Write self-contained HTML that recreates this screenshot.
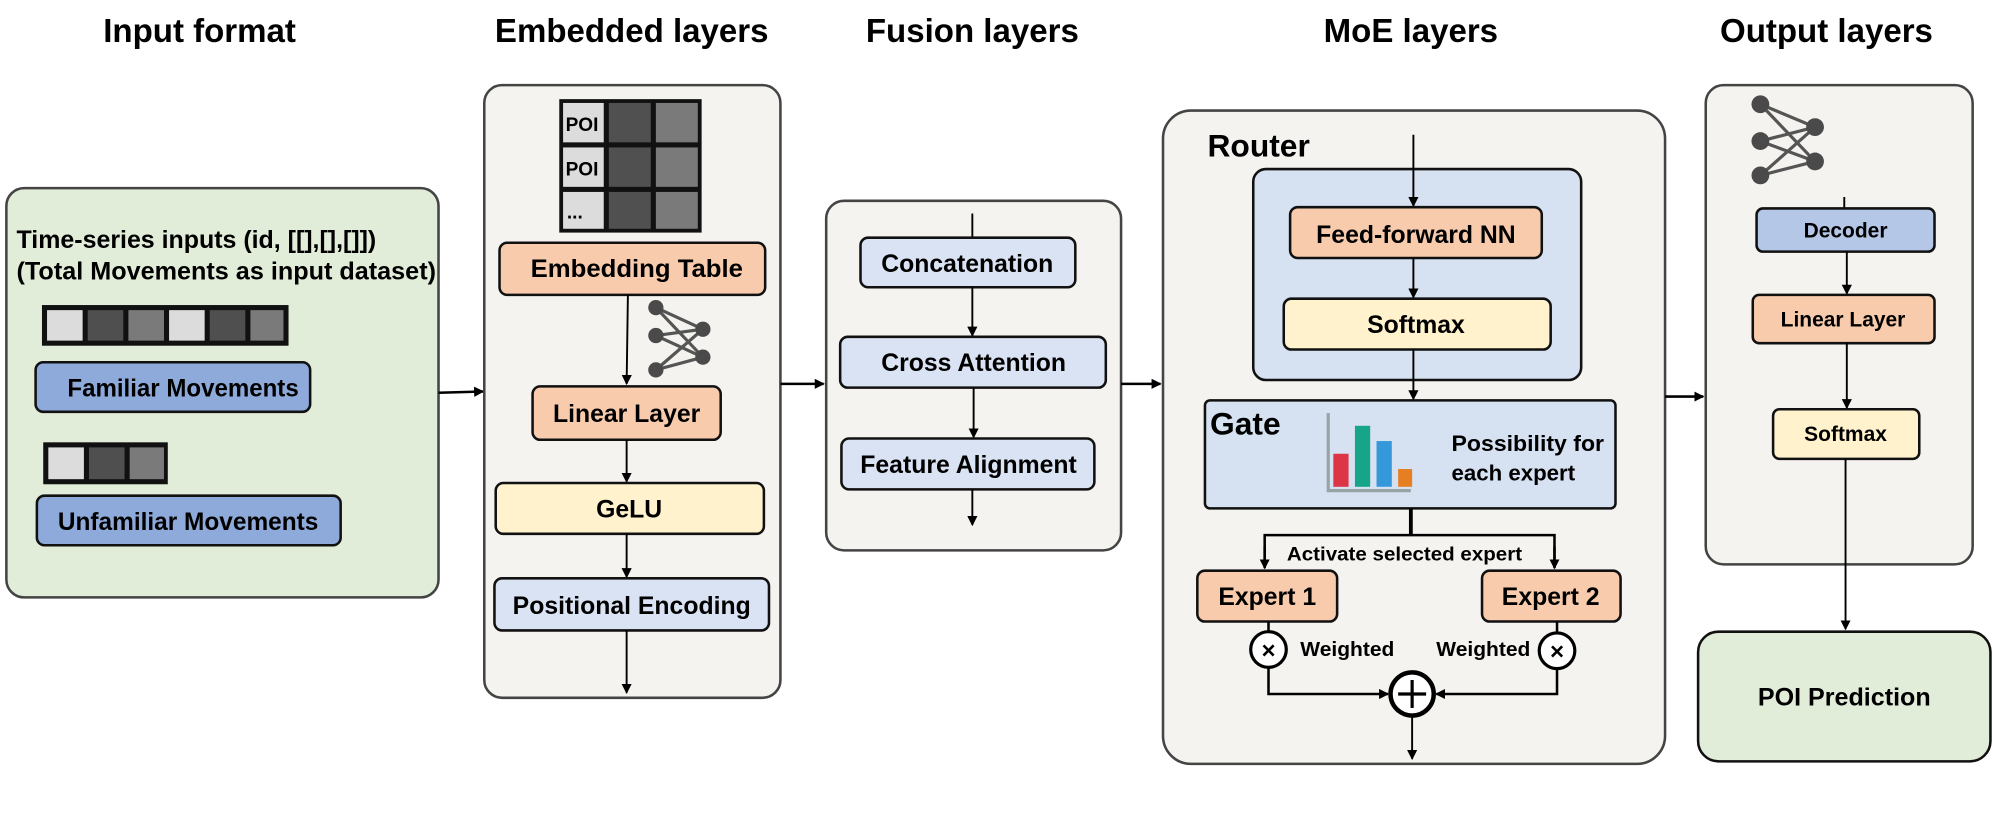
<!DOCTYPE html>
<html><head><meta charset="utf-8"><style>
html,body{margin:0;padding:0;background:#fff;}
svg{display:block;}
text{font-family:"Liberation Sans",Arial,sans-serif;font-weight:bold;fill:#000;}
</style></head><body>
<svg width="1993" height="816" viewBox="0 0 1568 642" xmlns="http://www.w3.org/2000/svg">
<defs>
<marker id="ar" markerWidth="8" markerHeight="8" refX="7" refY="4" orient="auto" markerUnits="userSpaceOnUse">
<path d="M0,0 L8,4 L0,8 z" fill="#000"/></marker>
</defs>
<g font-size="26" text-anchor="middle">
<text x="157" y="33">Input format</text>
<text x="497" y="33">Embedded layers</text>
<text x="765" y="33">Fusion layers</text>
<text x="1110" y="33">MoE layers</text>
<text x="1437" y="33">Output layers</text>
</g>

<!-- Input -->
<rect x="5" y="148" width="340" height="322" rx="14" fill="#e2edd9" stroke="#444" stroke-width="2"/>
<text x="13" y="195" font-size="19.5" textLength="283" lengthAdjust="spacingAndGlyphs">Time-series inputs (id, [[],[],[]])</text>
<text x="13" y="220" font-size="19.5" textLength="330" lengthAdjust="spacingAndGlyphs">(Total Movements as input dataset)</text>
<rect x="33" y="240" width="194" height="32" fill="#111"/>
<rect x="37" y="244" width="28" height="24" fill="#dcdcdc"/>
<rect x="69" y="244" width="28" height="24" fill="#4f4f4f"/>
<rect x="101" y="244" width="28" height="24" fill="#7a7a7a"/>
<rect x="133" y="244" width="28" height="24" fill="#dcdcdc"/>
<rect x="165" y="244" width="28" height="24" fill="#4f4f4f"/>
<rect x="197" y="244" width="26" height="24" fill="#7a7a7a"/>
<rect x="28" y="285" width="216" height="39" rx="6" fill="#8eaadb" stroke="#111" stroke-width="2"/>
<text x="144" y="312" font-size="19.5" text-anchor="middle" textLength="182" lengthAdjust="spacingAndGlyphs">Familiar Movements</text>
<rect x="34" y="348" width="98" height="33" fill="#111"/>
<rect x="38" y="352" width="28" height="25" fill="#dcdcdc"/>
<rect x="70" y="352" width="28" height="25" fill="#4f4f4f"/>
<rect x="102" y="352" width="27" height="25" fill="#7a7a7a"/>
<rect x="29" y="390" width="239" height="39" rx="6" fill="#8eaadb" stroke="#111" stroke-width="2"/>
<text x="148" y="417" font-size="19.5" text-anchor="middle" textLength="205" lengthAdjust="spacingAndGlyphs">Unfamiliar Movements</text>
<line x1="345" y1="309" x2="380" y2="308" stroke="#000" stroke-width="2" marker-end="url(#ar)"/>

<!-- Embedded -->
<rect x="381" y="67" width="233" height="482" rx="14" fill="#f4f3ef" stroke="#444" stroke-width="2"/>
<rect x="440" y="78" width="112" height="105" fill="#111"/>
<g>
<rect x="443" y="81" width="32" height="31" fill="#dcdcdc"/><rect x="479" y="81" width="33" height="31" fill="#505050"/><rect x="516" y="81" width="33" height="31" fill="#7a7a7a"/>
<rect x="443" y="116" width="32" height="31" fill="#dcdcdc"/><rect x="479" y="116" width="33" height="31" fill="#505050"/><rect x="516" y="116" width="33" height="31" fill="#7a7a7a"/>
<rect x="443" y="151" width="32" height="29" fill="#dcdcdc"/><rect x="479" y="151" width="33" height="29" fill="#505050"/><rect x="516" y="151" width="33" height="29" fill="#7a7a7a"/>
</g>
<text x="445" y="103" font-size="15">POI</text>
<text x="445" y="138" font-size="15">POI</text>
<text x="446" y="172" font-size="15">...</text>
<rect x="393" y="191" width="209" height="41" rx="6" fill="#f8cbad" stroke="#111" stroke-width="2"/>
<text x="501" y="218" font-size="19.5" text-anchor="middle" textLength="167" lengthAdjust="spacingAndGlyphs">Embedding  Table</text>
<line x1="494" y1="232" x2="493" y2="302" stroke="#000" stroke-width="1.5" marker-end="url(#ar)"/>
<g stroke="#555" stroke-width="2.5">
<line x1="516" y1="242" x2="553" y2="259"/><line x1="516" y1="242" x2="553" y2="281"/>
<line x1="516" y1="264" x2="553" y2="259"/><line x1="516" y1="264" x2="553" y2="281"/>
<line x1="516" y1="291" x2="553" y2="259"/><line x1="516" y1="291" x2="553" y2="281"/>
</g>
<g fill="#4a4a4a"><circle cx="516" cy="242" r="6"/><circle cx="516" cy="264" r="6"/><circle cx="516" cy="291" r="6"/><circle cx="553" cy="259" r="6"/><circle cx="553" cy="281" r="6"/></g>
<rect x="419" y="304" width="148" height="42" rx="6" fill="#f8cbad" stroke="#111" stroke-width="2"/>
<text x="493" y="332" font-size="19.5" text-anchor="middle">Linear Layer</text>
<line x1="493" y1="346" x2="493" y2="379" stroke="#000" stroke-width="1.5" marker-end="url(#ar)"/>
<rect x="390" y="380" width="211" height="40" rx="6" fill="#fff2cc" stroke="#111" stroke-width="2"/>
<text x="495" y="407" font-size="19.5" text-anchor="middle">GeLU</text>
<line x1="493" y1="420" x2="493" y2="454" stroke="#000" stroke-width="1.5" marker-end="url(#ar)"/>
<rect x="389" y="455" width="216" height="41" rx="6" fill="#dae3f3" stroke="#111" stroke-width="2"/>
<text x="497" y="483" font-size="19.5" text-anchor="middle">Positional Encoding</text>
<line x1="493" y1="496" x2="493" y2="545" stroke="#000" stroke-width="1.5" marker-end="url(#ar)"/>
<line x1="614" y1="302" x2="648" y2="302" stroke="#000" stroke-width="2" marker-end="url(#ar)"/>

<!-- Fusion -->
<rect x="650" y="158" width="232" height="275" rx="14" fill="#f4f3ef" stroke="#444" stroke-width="2"/>
<line x1="765" y1="168" x2="765" y2="187" stroke="#000" stroke-width="1.5"/>
<rect x="677" y="187" width="169" height="39" rx="6" fill="#dae3f3" stroke="#111" stroke-width="2"/>
<text x="761" y="214" font-size="19.5" text-anchor="middle">Concatenation</text>
<line x1="765" y1="226" x2="765" y2="264" stroke="#000" stroke-width="1.5" marker-end="url(#ar)"/>
<rect x="661" y="265" width="209" height="40" rx="6" fill="#dae3f3" stroke="#111" stroke-width="2"/>
<text x="766" y="292" font-size="19.5" text-anchor="middle">Cross Attention</text>
<line x1="766" y1="305" x2="766" y2="344" stroke="#000" stroke-width="1.5" marker-end="url(#ar)"/>
<rect x="662" y="345" width="199" height="40" rx="6" fill="#dae3f3" stroke="#111" stroke-width="2"/>
<text x="762" y="372" font-size="19.5" text-anchor="middle">Feature Alignment</text>
<line x1="765" y1="385" x2="765" y2="413" stroke="#000" stroke-width="1.5" marker-end="url(#ar)"/>
<line x1="882" y1="302" x2="913" y2="302" stroke="#000" stroke-width="2" marker-end="url(#ar)"/>

<!-- MoE -->
<rect x="915" y="87" width="395" height="514" rx="22" fill="#f4f3ef" stroke="#444" stroke-width="2"/>
<text x="950" y="123" font-size="25">Router</text>
<rect x="986" y="133" width="258" height="166" rx="10" fill="#d6e1f1" stroke="#111" stroke-width="2"/>
<line x1="1112" y1="106" x2="1112" y2="162" stroke="#000" stroke-width="1.5" marker-end="url(#ar)"/>
<rect x="1015" y="163" width="198" height="40" rx="6" fill="#f8cbad" stroke="#111" stroke-width="2"/>
<text x="1114" y="191" font-size="19.5" text-anchor="middle">Feed-forward NN</text>
<line x1="1112" y1="203" x2="1112" y2="234" stroke="#000" stroke-width="1.5" marker-end="url(#ar)"/>
<rect x="1010" y="235" width="210" height="40" rx="6" fill="#fff2cc" stroke="#111" stroke-width="2"/>
<text x="1114" y="262" font-size="19.5" text-anchor="middle">Softmax</text>
<line x1="1112" y1="275" x2="1112" y2="314" stroke="#000" stroke-width="1.5" marker-end="url(#ar)"/>
<rect x="948" y="315" width="323" height="85" rx="4" fill="#d6e1f1" stroke="#111" stroke-width="2"/>
<text x="952" y="342" font-size="25">Gate</text>
<polyline points="1045,325 1045,386 1110,386" fill="none" stroke="#95a5a6" stroke-width="2.5"/>
<rect x="1049" y="357" width="12" height="26" fill="#dc3545"/>
<rect x="1066" y="335" width="12" height="48" fill="#17a589"/>
<rect x="1083" y="347" width="12" height="36" fill="#3498db"/>
<rect x="1100" y="369" width="11" height="14" fill="#e67e22"/>
<text x="1142" y="355" font-size="17.5" textLength="120" lengthAdjust="spacingAndGlyphs">Possibility for</text>
<text x="1142" y="378" font-size="17.5">each expert</text>
<line x1="1110" y1="400" x2="1110" y2="421" stroke="#000" stroke-width="3"/>
<polyline points="995,446 995,421 1223,421 1223,446" fill="none" stroke="#000" stroke-width="2"/>
<line x1="995" y1="430" x2="995" y2="447" stroke="#000" stroke-width="2" marker-end="url(#ar)"/>
<line x1="1223" y1="430" x2="1223" y2="447" stroke="#000" stroke-width="2" marker-end="url(#ar)"/>
<text x="1105" y="441" font-size="15.5" text-anchor="middle" textLength="185" lengthAdjust="spacingAndGlyphs">Activate selected expert</text>
<rect x="942" y="449" width="110" height="40" rx="6" fill="#f8cbad" stroke="#111" stroke-width="2"/>
<text x="997" y="476" font-size="19.5" text-anchor="middle">Expert 1</text>
<rect x="1166" y="449" width="109" height="40" rx="6" fill="#f8cbad" stroke="#111" stroke-width="2"/>
<text x="1220" y="476" font-size="19.5" text-anchor="middle">Expert 2</text>
<line x1="998" y1="489" x2="998" y2="497" stroke="#000" stroke-width="2"/>
<line x1="1225" y1="489" x2="1225" y2="498" stroke="#000" stroke-width="2"/>
<circle cx="998" cy="511" r="14" fill="#fff" stroke="#000" stroke-width="2.5"/>
<text x="998" y="518" font-size="19" text-anchor="middle" font-weight="normal">×</text>
<circle cx="1225" cy="512" r="14" fill="#fff" stroke="#000" stroke-width="2.5"/>
<text x="1225" y="519" font-size="19" text-anchor="middle" font-weight="normal">×</text>
<text x="1023" y="516" font-size="16" textLength="74" lengthAdjust="spacingAndGlyphs">Weighted</text>
<text x="1130" y="516" font-size="16" textLength="74" lengthAdjust="spacingAndGlyphs">Weighted</text>
<polyline points="998,525 998,546 1092,546" fill="none" stroke="#000" stroke-width="2" marker-end="url(#ar)"/>
<polyline points="1225,526 1225,546 1130,546" fill="none" stroke="#000" stroke-width="2" marker-end="url(#ar)"/>
<circle cx="1111" cy="546" r="17" fill="#fff" stroke="#000" stroke-width="3.5"/>
<line x1="1100" y1="546" x2="1122" y2="546" stroke="#000" stroke-width="2.5"/>
<line x1="1111" y1="535" x2="1111" y2="557" stroke="#000" stroke-width="2.5"/>
<line x1="1111" y1="563" x2="1111" y2="597" stroke="#000" stroke-width="1.5" marker-end="url(#ar)"/>
<line x1="1310" y1="312" x2="1340" y2="312" stroke="#000" stroke-width="2" marker-end="url(#ar)"/>

<!-- Output -->
<rect x="1342" y="67" width="210" height="377" rx="14" fill="#f4f3ef" stroke="#444" stroke-width="2"/>
<g stroke="#555" stroke-width="2.5">
<line x1="1385" y1="82" x2="1428" y2="100"/><line x1="1385" y1="82" x2="1428" y2="127"/>
<line x1="1385" y1="111" x2="1428" y2="100"/><line x1="1385" y1="111" x2="1428" y2="127"/>
<line x1="1385" y1="138" x2="1428" y2="100"/><line x1="1385" y1="138" x2="1428" y2="127"/>
</g>
<g fill="#4a4a4a"><circle cx="1385" cy="82" r="7"/><circle cx="1385" cy="111" r="7"/><circle cx="1385" cy="138" r="7"/><circle cx="1428" cy="100" r="7"/><circle cx="1428" cy="127" r="7"/></g>
<line x1="1451" y1="155" x2="1451" y2="164" stroke="#000" stroke-width="1.5"/>
<rect x="1382" y="164" width="140" height="34" rx="5" fill="#b4c7e7" stroke="#111" stroke-width="2"/>
<text x="1452" y="187" font-size="16.5" text-anchor="middle">Decoder</text>
<line x1="1453" y1="198" x2="1453" y2="231" stroke="#000" stroke-width="1.5" marker-end="url(#ar)"/>
<rect x="1379" y="232" width="143" height="38" rx="5" fill="#f8cbad" stroke="#111" stroke-width="2"/>
<text x="1450" y="257" font-size="16.5" text-anchor="middle">Linear Layer</text>
<line x1="1453" y1="270" x2="1453" y2="321" stroke="#000" stroke-width="1.5" marker-end="url(#ar)"/>
<rect x="1395" y="322" width="115" height="39" rx="5" fill="#fff2cc" stroke="#111" stroke-width="2"/>
<text x="1452" y="347" font-size="16.5" text-anchor="middle">Softmax</text>
<line x1="1452" y1="361" x2="1452" y2="495" stroke="#000" stroke-width="1.5" marker-end="url(#ar)"/>
<rect x="1336" y="497" width="230" height="102" rx="16" fill="#e2edd9" stroke="#111" stroke-width="2"/>
<text x="1451" y="555" font-size="19.5" text-anchor="middle" textLength="136" lengthAdjust="spacingAndGlyphs">POI Prediction</text>
</svg>
</body></html>
